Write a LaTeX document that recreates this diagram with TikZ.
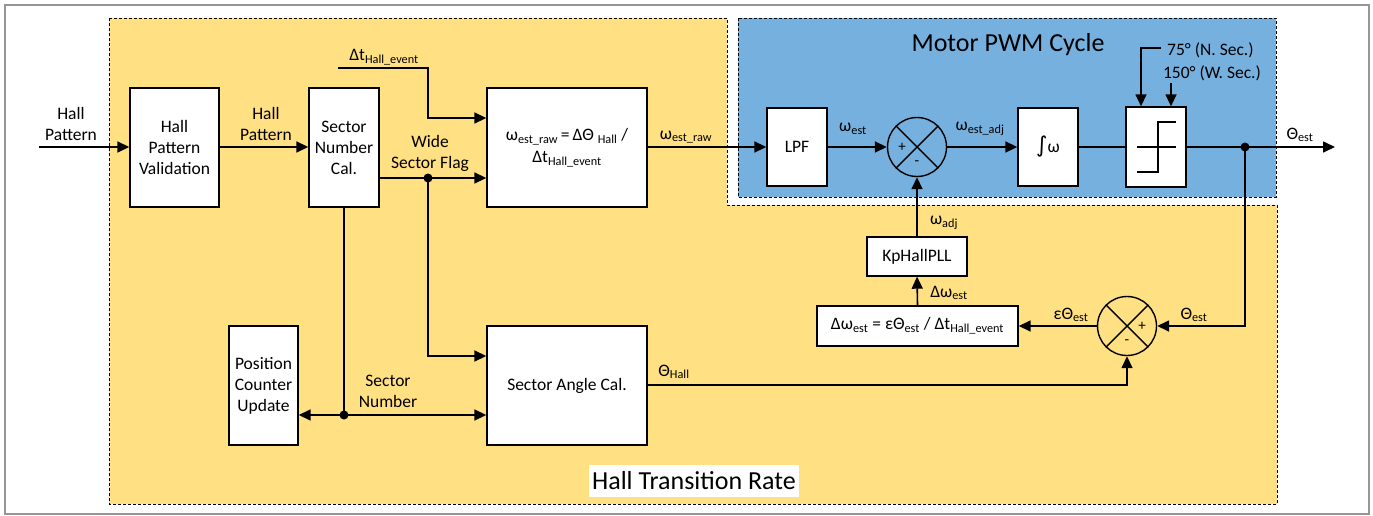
\documentclass[tikz,border=0pt]{standalone}
\usepackage{fontspec}
\setmainfont{Carlito}
\newfontfamily\symfnt{DejaVu Sans}
\usetikzlibrary{arrows.meta,calc}
\definecolor{yel}{RGB}{255,224,130}
\definecolor{blu}{RGB}{118,176,222}
\definecolor{framegray}{RGB}{150,150,150}
\begin{document}
\begin{tikzpicture}[x=1pt,y=-1pt,
  font=\fontsize{17.5}{21}\selectfont,
  blk/.style={draw, fill=white, line width=1.4pt, align=center, inner sep=0pt},
  sumc/.style={draw, circle, line width=1.4pt, minimum size=59pt, inner sep=0pt},
  conn/.style={line width=1.6pt},
  arr/.style={conn, -{Triangle[length=12pt,width=11pt]}},
  lbl/.style={align=center, inner sep=0pt},
  jdot/.style={circle, fill=black, minimum size=9pt, inner sep=0pt},
  region/.style={draw=black, line width=0.9pt, dash pattern=on 3pt off 2pt},
  sgn/.style={inner sep=0pt, font=\fontsize{15}{15}\selectfont}
]
\useasboundingbox (0,0) rectangle (1373,516);
\draw[framegray, line width=1.5pt] (5,5) rectangle (1369,514);

% regions
\draw[region, fill=yel] (109,18) -- (727,18) -- (727,205) -- (1277,205) -- (1277,504) -- (109,504) -- cycle;
\draw[region, fill=blu] (738,18) rectangle (1276,197);

% blocks
\node[blk, minimum width=89pt, minimum height=119pt] (hpv) at (174.5,147.5) {Hall\\Pattern\\Validation};
\node[blk, minimum width=70pt, minimum height=119pt] (snc) at (344,147.5) {Sector\\Number\\Cal.};
\node[blk, minimum width=160pt, minimum height=119pt] (est) at (567,147.5)
  {ω\textsubscript{est\_raw}\,=\,ΔΘ \textsubscript{Hall} /\\[1pt]Δt\textsubscript{Hall\_event}};
\node[blk, minimum width=60pt, minimum height=78pt] (lpf) at (797,147) {LPF};
\node[sumc] (sum1) at (917,147) {};
\node[blk, minimum width=60pt, minimum height=78pt] (intg) at (1048,147) {{\symfnt\fontsize{22}{22}\selectfont ∫}ω};
\node[blk, minimum width=60pt, minimum height=80pt] (sat) at (1156,147) {};
\node[blk, minimum width=100pt, minimum height=39pt] (kp) at (917,256.5) {KpHallPLL};
\node[blk, minimum width=201pt, minimum height=40pt] (form) at (917.5,326)
  {Δω\textsubscript{est} = εΘ\textsubscript{est} / Δt\textsubscript{Hall\_event}};
\node[sumc] (sum2) at (1127,326) {};
\node[blk, minimum width=69pt, minimum height=119pt] (pcu) at (263.5,385.5) {Position\\Counter\\Update};
\node[blk, minimum width=160pt, minimum height=119pt] (sac) at (567,385.5) {Sector Angle Cal.};

% summing junction crosses and signs
\draw[line width=1.4pt] (sum1.north west) -- (sum1.south east) (sum1.north east) -- (sum1.south west);
\draw[line width=1.4pt] (sum2.north west) -- (sum2.south east) (sum2.north east) -- (sum2.south west);
\node[sgn] at ([xshift=-15pt]sum1.center) {+};
\node[sgn] at ([yshift=-16pt]sum1.center) {-};
\node[sgn] at ([xshift=15pt]sum2.center) {+};
\node[sgn] at ([yshift=-16pt]sum2.center) {-};

% saturation symbol
\draw[line width=1.4pt] ([xshift=-19pt]sat.center) -- ([xshift=20pt]sat.center);
\draw[line width=1.4pt] ($(sat.center)+(-19,25)$) -- ++(21,0) -- ++(0,-50) -- ++(18,0);

% coordinates
\coordinate (in) at (39,147);
\coordinate (dt0) at (338,68);
\coordinate (dtc) at (428,118);
\coordinate (wy) at (0,356);
\coordinate (sny) at (0,415);
\coordinate (hc) at (1127,385);
\coordinate (outend) at (1335,147);
\coordinate (n75) at (1161,48);
\coordinate (w150) at (1171,83);
\node[jdot] (wdot) at (428,178) {};
\node[jdot] (sdot) at (snc.south |- sny) {};
\node[jdot] (odot) at (1245,147) {};

% connectors
\draw[arr] (in) -- (in -| hpv.west);
\draw[arr] (hpv.east |- in) -- (snc.west |- in);
\draw[arr] (snc.east |- wdot) -- (est.west |- wdot);
\draw[arr] (dt0) -| (dtc) -- (est.west |- dtc);
\draw[arr] (wdot.center) |- (sac.west |- wy);
\draw[conn] (snc.south) -- (sdot.center);
\draw[arr] (sdot.center) -- (pcu.east |- sdot);
\draw[arr] (sdot.center) -- (sac.west |- sdot);
\draw[arr] (est.east |- in) -- (lpf.west);
\draw[arr] (lpf.east) -- (sum1.west);
\draw[arr] (sum1.east) -- (intg.west);
\draw[conn] (intg.east) -- (sat.west);
\draw[arr] (sat.east) -- (outend);
\draw[arr] (odot.center) |- (sum2.east);
\draw[arr] (sum2.west) -- (form.east);
\draw[arr] (form.north) -- (kp.south);
\draw[arr] (kp.north) -- (sum1.south);
\draw[arr] (sac.east |- hc) -- (hc) -- (sum2.south);
\draw[arr] (n75) -| ([xshift=-15pt]sat.north);
\draw[arr] (w150) -- (w150 |- sat.north);

% labels
\node[lbl] (l1) at (71,124) {Hall\\Pattern};
\node[lbl] (l2) at (266,124) {Hall\\Pattern};
\node[lbl] (l3) at (430,153) {Wide\\Sector Flag};
\node[lbl] (l4) at (384,57) {Δt\textsubscript{Hall\_event}};
\node[lbl] (l5) at (686,137) {ω\textsubscript{est\_raw}};
\node[lbl] (l6) at (853,129) {ω\textsubscript{est}};
\node[lbl] (l7) at (980,129) {ω\textsubscript{est\_adj}};
\node[lbl] (l8) at (1300,135) {Θ\textsubscript{est}};
\node[lbl, anchor=west] (l9) at (1167,50) {75° (N. Sec.)};
\node[lbl] (l10) at (1212,73) {150° (W. Sec.)};
\node[lbl, font=\fontsize{26}{30}\selectfont] (l11) at (1008,45) {Motor PWM Cycle};
\node[lbl] (l12) at (944,223) {ω\textsubscript{adj}};
\node[lbl] (l13) at (949,293) {Δω\textsubscript{est}};
\node[lbl] (l14) at (1071,315) {εΘ\textsubscript{est}};
\node[lbl] (l15) at (1194,315) {Θ\textsubscript{est}};
\node[lbl] (l16) at (674,372) {Θ\textsubscript{Hall}};
\node[lbl] (l17) at (388,391) {Sector\\Number};
\node[fill=white, inner xsep=3pt, minimum height=32pt, font=\fontsize{26}{30}\selectfont] (htr) at (694,481) {Hall Transition Rate};
\end{tikzpicture}
\end{document}
